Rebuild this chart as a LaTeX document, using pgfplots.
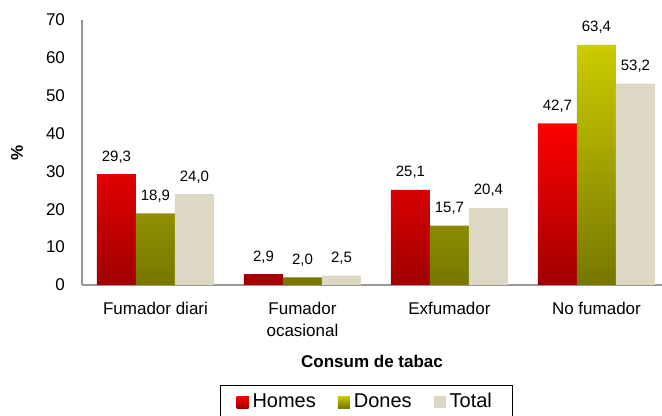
\documentclass[border=0pt]{standalone}
\usepackage{pgfplots}
\pgfplotsset{compat=1.18}
\usepackage{fontspec}
\setmainfont{Liberation Sans}
\definecolor{homtop}{RGB}{255,0,0}
\definecolor{hombot}{RGB}{160,0,0}
\definecolor{dontop}{RGB}{204,204,0}
\definecolor{donbot}{RGB}{118,118,0}
\definecolor{total}{RGB}{221,216,196}
\definecolor{axgray}{RGB}{150,150,150}

\begin{document}
\begin{tikzpicture}
\begin{axis}[scale only axis,width=290pt,height=132.5pt,
  ybar=0pt,bar width=19.5pt,
  xmin=-0.5,xmax=3.446,ymin=0,ymax=70,
  xtick={0,1,2,3},
  xticklabels={Fumador diari,{Fumador\\ocasional},Exfumador,No fumador},
  xticklabel style={align=center,font=\fontsize{8.5}{11}\selectfont,yshift=-5pt},
  ytick={0,10,...,70},
  yticklabel style={font=\fontsize{8.5}{10}\selectfont,xshift=-5pt},
  major tick length=0pt,
  axis x line*=bottom,axis y line*=left,
  axis line style={axgray,line width=1pt},
  /pgf/number format/assume math mode=true,
  xlabel={\textbf{Consum de tabac}},
  xlabel style={at={(axis description cs:0.5,-0.29)},anchor=center,
    font=\fontsize{8.5}{10}\selectfont},
  ylabel={\textbf{\%}},
  ylabel style={at={(axis description cs:-0.112,0.5)},anchor=center,
    font=\fontsize{8.5}{10}\selectfont},
  nodes near coords={\pgfmathprintnumber[fixed,fixed zerofill,precision=1,use comma,assume math mode=true]{\pgfplotspointmeta}},
  every node near coord/.append style={font=\fontsize{7.5}{9}\selectfont,yshift=2pt},
  legend style={at={(0.49,-0.377)},anchor=north,legend columns=3,draw=black,
    font=\fontsize{10}{12}\selectfont,inner xsep=8pt,
    /tikz/every even column/.append style={column sep=9pt}},
  legend image code/.code={\fill[#1] (0pt,-3pt) rectangle (6pt,3pt);},
  clip=false]
\addplot[draw=none,top color=homtop,bottom color=hombot] coordinates
  {(0,29.3) (1,2.9) (2,25.1) (3,42.7)};
\addplot[draw=none,top color=dontop,bottom color=donbot] coordinates
  {(0,18.9) (1,2.0) (2,15.7) (3,63.4)};
\addplot[draw=none,fill=total] coordinates
  {(0,24.0) (1,2.5) (2,20.4) (3,53.2)};
\legend{Homes,Dones,Total}
\end{axis}
\pgfresetboundingbox
\path (-41pt,-65.5pt) rectangle (290pt,142.5pt);
\end{tikzpicture}
\end{document}
